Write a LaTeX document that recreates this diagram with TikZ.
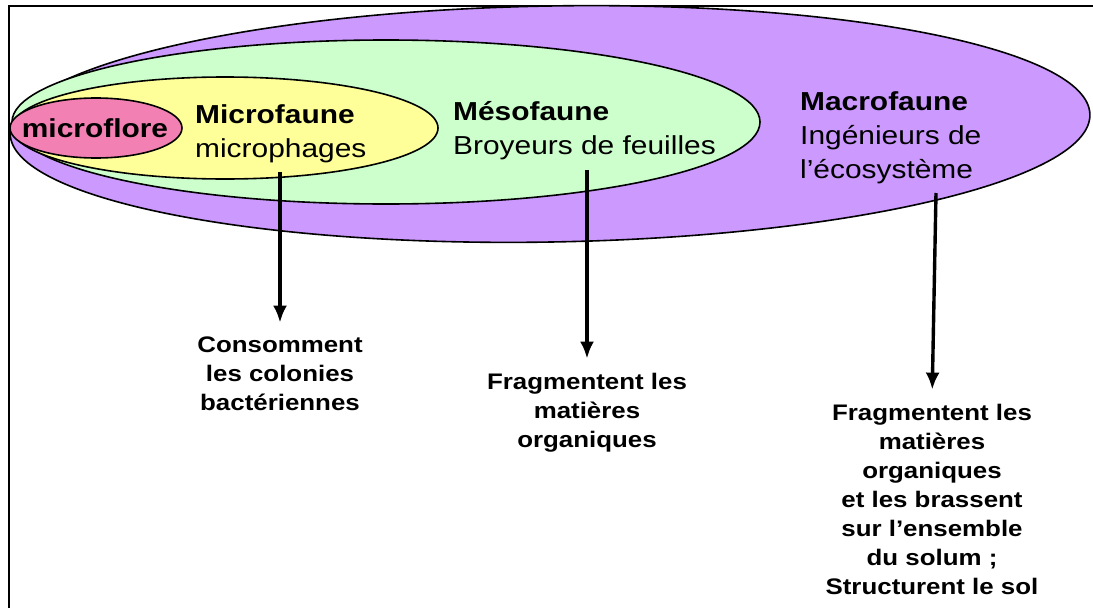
\documentclass[tikz,border=0pt]{standalone}
\usepackage{fontspec}
\setmainfont{Liberation Sans}[FakeStretch=1.15]
\usetikzlibrary{arrows.meta}

\definecolor{macroviolet}{RGB}{204,153,255}
\definecolor{mesovert}{RGB}{204,255,204}
\definecolor{microjaune}{RGB}{255,255,153}
\definecolor{florerose}{RGB}{242,128,178}

\begin{document}
\begin{tikzpicture}[x=1pt, y=-1pt,
    zone/.style={draw=black, line width=1.6pt},
    titre/.style={anchor=west, inner sep=0pt, align=left, font=\fontsize{26}{34}\selectfont},
    role/.style={anchor=north, inner sep=0pt, align=center, font=\bfseries\fontsize{22.5}{29}\selectfont},
    fleche/.style={line width=3.4pt, -{Latex[length=17pt,width=14pt]}, shorten >=14pt}]
    \useasboundingbox (0,0) rectangle (1093,608);

    % Draw the frame
    \draw[line width=2.4pt] (9,608) -- (9,6) -- (1093,6);

    % Draw the nested zones
    \draw[zone, fill=macroviolet, rotate around={1:(550,124)}] (550,124) ellipse (540pt and 118pt);
    \draw[zone, fill=mesovert] (386,122) ellipse (374pt and 82pt);
    \draw[zone, fill=microjaune] (225,128) ellipse (213pt and 51pt);
    \draw[zone, fill=florerose] (96,128) ellipse (86pt and 30pt);

    % Add the zone labels
    \node[inner sep=0pt, font=\bfseries\fontsize{26}{34}\selectfont] (flore) at (95,128.5) {microflore};
    \node[titre] (micro) at (195,134) {\textbf{Microfaune}\\microphages};
    \node[titre] (meso) at (453,130.5) {\textbf{Mésofaune}\\Broyeurs de feuilles};
    \node[titre] (macro) at (800,138) {\textbf{Macrofaune}\\Ingénieurs de\\l’écosystème};

    % Add the roles below
    \node[role] (conso) at (280,336.6) {Consomment\\les colonies\\bactériennes};
    \node[role] (frag) at (587,372.6) {Fragmentent les\\matières\\organiques};
    \node[role] (struct) at (932,403.6) {Fragmentent les\\matières\\organiques\\et les brassent\\sur l’ensemble\\du solum ;\\Structurent le sol};

    % Draw the arrows
    \coordinate (d1) at (280,172);
    \coordinate (d2) at (587,170);
    \coordinate (d3) at (936,193);
    \draw[fleche] (d1) -- (conso.north);
    \draw[fleche] (d2) -- (frag.north);
    \draw[fleche] (d3) -- (struct.north);
\end{tikzpicture}
\end{document}
